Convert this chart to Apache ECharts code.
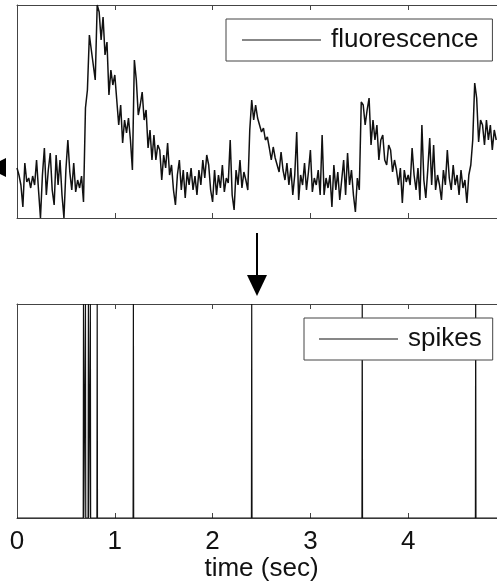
<!DOCTYPE html>
<html>
<head>
<meta charset="utf-8">
<script src="https://cdn.jsdelivr.net/npm/echarts@6/dist/echarts.min.js"></script>
<style>
html,body{margin:0;padding:0;background:#fff;}
#chart{width:497px;height:588px;}
</style>
</head>
<body>
<div id="chart"></div>
<script>
// Sampling interval of the fluorescence trace (seconds)
const sampleInterval = 0.02;
// Fluorescence trace values (arbitrary units), one per sample
const fluorescence = [
  50,43,33,11,55,36,40,30,42,33,
  58,28,0,43,70,23,48,65,28,13,
  63,33,58,23,0,48,78,46,28,55,
  26,38,30,42,16,110,128,183,168,170,
  138,213,206,178,201,163,176,123,148,133,
  143,118,93,113,75,98,85,100,78,48,
  158,138,103,113,126,98,108,70,88,58,
  83,58,73,68,38,63,50,75,43,53,
  28,13,43,58,28,48,20,46,33,50,
  28,42,23,48,33,58,40,63,53,28,
  16,48,23,43,30,53,26,40,35,78,
  23,8,48,33,58,30,46,38,28,88,
  118,98,113,100,93,86,90,78,81,70,
  58,71,60,53,46,66,48,38,55,33,
  50,23,43,86,18,43,33,55,28,46,
  68,26,40,33,48,23,83,23,40,30,
  43,11,53,28,46,18,38,58,23,65,
  33,48,23,6,40,28,116,113,93,108,
  120,73,98,78,93,58,78,83,58,53,
  73,68,46,58,48,33,50,15,48,36,
  43,33,70,43,28,50,18,93,38,20,
  48,80,33,73,28,43,33,18,48,33,
  68,40,28,53,33,43,23,48,30,38,
  15,43,53,78,135,120,76,98,93,73,
  98,78,93,68,88,78
];
// Detected spike times (seconds)
const spikeTimes = [0.68, 0.70, 0.73, 0.75, 0.82, 1.19, 2.40, 3.53, 4.69];
const spikeHalfWidth = 0.003;
const xTicks = ['0', '1', '2', '3', '4'];

const fluorData = fluorescence.map((v, i) => [i * sampleInterval, v]);
const spikeData = [[0, 0]];
spikeTimes.forEach(t => {
  spikeData.push([t - spikeHalfWidth, 0], [t, 1], [t + spikeHalfWidth, 0]);
});
spikeData.push([5, 0]);

const FONT = '"Liberation Sans", Arial, Helvetica, sans-serif';
const AX = '#444';

function xAxisCfg(gridIndex, position, labels, name) {
  return {
    type: 'value', gridIndex, position, min: 0, max: 5, interval: 1,
    axisLine: { show: true, onZero: false, lineStyle: { color: AX, width: 1 } },
    axisTick: { show: true, inside: true, length: 5, lineStyle: { color: AX, width: 1 } },
    splitLine: { show: false },
    axisLabel: labels ? {
      show: true, fontSize: 26, fontFamily: FONT, color: '#111', margin: 11,
      showMaxLabel: false,
      formatter: v => xTicks[Math.round(v)] !== undefined ? xTicks[Math.round(v)] : ''
    } : { show: false },
    name: name || '',
    nameLocation: 'middle', nameGap: 37,
    nameTextStyle: { fontSize: 26, fontFamily: FONT, color: '#111' }
  };
}
function yAxisCfg(gridIndex, max) {
  return {
    type: 'value', gridIndex, min: 0, max, position: 'left',
    axisLine: { show: true, onZero: false, lineStyle: { color: AX, width: 1 } },
    axisTick: { show: false }, axisLabel: { show: false }, splitLine: { show: false }
  };
}

const chart = echarts.init(document.getElementById('chart'), null, { renderer: 'canvas' });
chart.setOption({
  animation: false,
  backgroundColor: '#fff',
  grid: [
    { left: 17, top: 5, width: 489, height: 213, outerBoundsMode: 'none', containLabel: false },
    { left: 17, top: 304, width: 489, height: 214, outerBoundsMode: 'none', containLabel: false }
  ],
  xAxis: [
    xAxisCfg(0, 'bottom', false),
    xAxisCfg(0, 'top', false),
    xAxisCfg(1, 'bottom', true, 'time (sec)'),
    xAxisCfg(1, 'top', false)
  ],
  yAxis: [yAxisCfg(0, 213), yAxisCfg(1, 1)],
  legend: [
    {
      data: [{ name: 'fluorescence', icon: 'rect' }], left: 226, top: 19, selectedMode: false,
      backgroundColor: '#fff', borderColor: AX, borderWidth: 1,
      padding: [8, 14, 8, 16], itemWidth: 79, itemHeight: 1,
      textStyle: { fontSize: 26, fontFamily: FONT, color: '#111', padding: [0, 0, 0, 5] }
    },
    {
      data: [{ name: 'spikes', icon: 'rect' }], left: 304, top: 318, selectedMode: false,
      backgroundColor: '#fff', borderColor: AX, borderWidth: 1,
      padding: [8, 11, 8, 15], itemWidth: 79, itemHeight: 1,
      textStyle: { fontSize: 26, fontFamily: FONT, color: '#111', padding: [0, 0, 0, 5] }
    }
  ],
  series: [
    {
      name: 'fluorescence', type: 'line', xAxisIndex: 0, yAxisIndex: 0,
      data: fluorData, symbol: 'none', clip: true,
      lineStyle: { color: '#111', width: 1.5 }, itemStyle: { color: '#111' }
    },
    {
      name: 'spikes', type: 'line', xAxisIndex: 2, yAxisIndex: 1,
      data: spikeData, symbol: 'none', clip: true,
      lineStyle: { color: '#111', width: 1.2 }, itemStyle: { color: '#111' }
    }
  ],
  graphic: [
    { type: 'line', shape: { x1: 257, y1: 233, x2: 257, y2: 278 }, style: { stroke: '#000', lineWidth: 2 } },
    { type: 'polygon', shape: { points: [[247, 275], [267, 275], [257, 296]] }, style: { fill: '#000' } },
    { type: 'polygon', shape: { points: [[6, 158], [6, 177], [-13, 167.5]] }, style: { fill: '#000' } }
  ]
});
</script>
</body>
</html>
